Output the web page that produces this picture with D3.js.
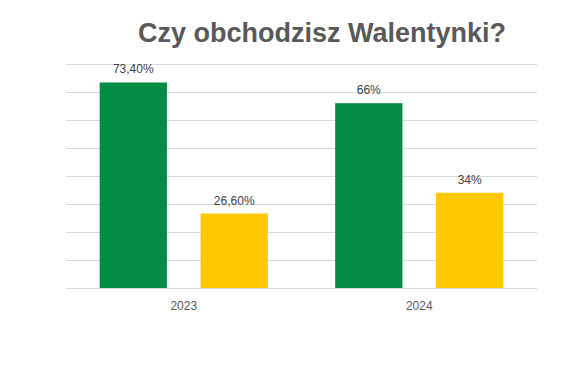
<!DOCTYPE html>
<html>
<head>
<meta charset="utf-8">
<script src="https://cdn.jsdelivr.net/npm/d3@7"></script>
<style>
  body { margin: 0; background: #fff; }
  text { font-family: "Liberation Sans", Arial, sans-serif; }
</style>
</head>
<body>
<div id="chart"></div>
<script>
// data
const years = ["2023", "2024"];
const series = ["tak", "nie"];
const valuesTak = [73.4, 66];
const valuesNie = [26.6, 34];
const valueLabelsTak = ["73,40%", "66%"];
const valueLabelsNie = ["26,60%", "34%"];
const seriesColors = ["#038c44", "#ffc800"];

let width = 564, height = 374;
let margin = {top: 64, right: 27, bottom: 86, left: 66};

let svg = d3.select("#chart").append("svg")
    .attr("width", width)
    .attr("height", height);

let plotW = width - margin.left - margin.right;
let plotH = height - margin.top - margin.bottom;

let g = svg.append("g")
    .attr("transform", "translate(" + margin.left + " " + margin.top + ")");

let x0 = d3.scaleBand().domain(years).range([0, plotW]).padding(0);
let x1 = d3.scaleBand().domain(series).range([0, x0.bandwidth()])
    .paddingInner(1/3).paddingOuter(1/3);
let y = d3.scaleLinear().domain([0, 80]).range([plotH, 0]);

// gridlines
g.append("g")
    .selectAll("line")
    .data(y.ticks(8))
    .enter()
    .append("line")
    .attr("x1", 0)
    .attr("x2", plotW)
    .attr("y1", d => Math.round(y(d)) + 0.5)
    .attr("y2", d => Math.round(y(d)) + 0.5)
    .style("stroke", "#d9d9d9")
    .style("stroke-width", 1);

let rows = years.map(function (yr, i) {
    return [
        {year: yr, s: "tak", v: valuesTak[i], label: valueLabelsTak[i], color: seriesColors[0]},
        {year: yr, s: "nie", v: valuesNie[i], label: valueLabelsNie[i], color: seriesColors[1]}
    ];
}).flat();

g.append("g")
    .selectAll("rect")
    .data(rows)
    .enter()
    .append("rect")
    .attr("x", d => x0(d.year) + x1(d.s))
    .attr("y", d => y(d.v))
    .attr("width", x1.bandwidth())
    .attr("height", d => plotH - y(d.v))
    .style("fill", d => d.color);

g.append("g")
    .selectAll("text")
    .data(rows)
    .enter()
    .append("text")
    .attr("x", d => x0(d.year) + x1(d.s) + x1.bandwidth() / 2)
    .attr("y", d => y(d.v) - 9)
    .style("text-anchor", "middle")
    .style("font-size", "12px")
    .style("fill", "#404040")
    .text(d => d.label);

// x axis labels
g.append("g")
    .selectAll("text")
    .data(years)
    .enter()
    .append("text")
    .attr("x", d => x0(d) + x0.bandwidth() / 2)
    .attr("y", plotH + 22)
    .style("text-anchor", "middle")
    .style("font-size", "12px")
    .style("fill", "#595959")
    .text(d => d);

// title
svg.append("text")
    .attr("x", 322)
    .attr("y", 42)
    .style("text-anchor", "middle")
    .style("font-size", "27px")
    .style("font-weight", "bold")
    .style("fill", "#595959")
    .text("Czy obchodzisz Walentynki?");
</script>
</body>
</html>
